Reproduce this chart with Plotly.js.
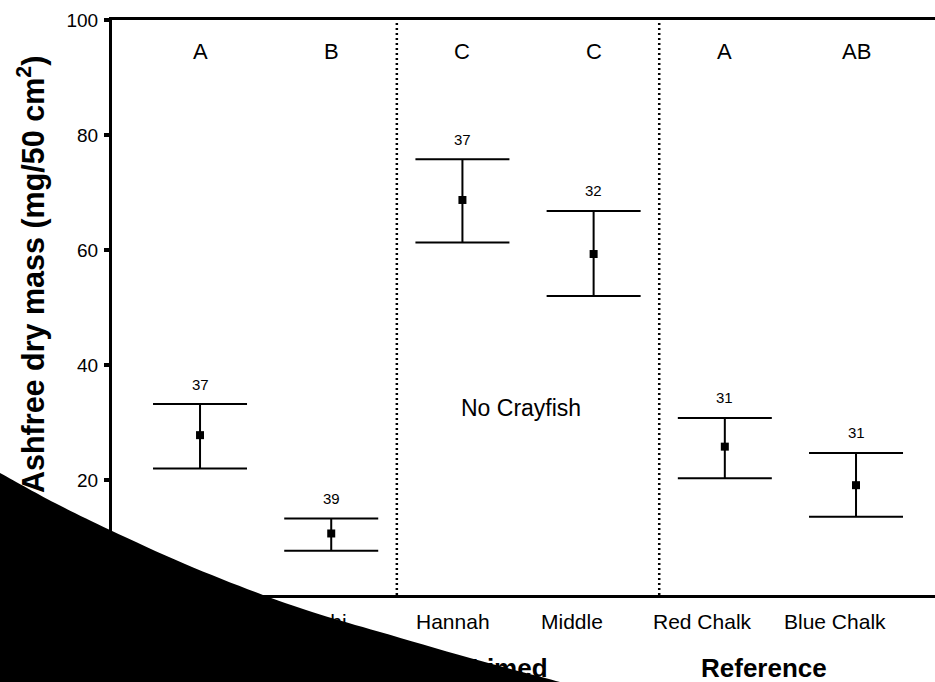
<!DOCTYPE html>
<html>
<head>
<meta charset="utf-8">
<script src="https://cdn.plot.ly/plotly-3.0.1.min.js"></script>
<style>html,body{margin:0;padding:0;background:#fff;}</style>
</head>
<body>
<div id="chart" style="width:935px;height:682px;"></div>
<script>
// ---- data ----
const categories = ["Clearwater", "Lohi", "Hannah", "Middle", "Red Chalk", "Blue Chalk"];
const means      = [27.8, 10.7, 68.7, 59.3, 25.8, 19.1];
const upperCI    = [33.2, 13.3, 75.8, 66.8, 30.8, 24.7];
const lowerCI    = [22.0, 7.7, 61.3, 52.0, 20.3, 13.6];
const nLabels    = ["37", "39", "37", "32", "31", "31"];
const letters    = ["A", "B", "C", "C", "A", "AB"];
const groups     = ["Acidified", "Limed", "Reference"];
const groupMembers = [[0, 1], [2, 3], [4, 5]];
const yTicks     = [0, 20, 40, 60, 80, 100];
const noteText   = "No Crayfish";

// ---- styling ----
const FONT = "Liberation Sans, Arial, Helvetica, sans-serif";
const tickLabelShift = [-4, -4, -9, -22, -22, -21];
const groupLabelShift = [-20, -19, -26];

const xIdx = categories.map((_, i) => i);

const trace = {
  type: "scatter",
  mode: "markers",
  x: xIdx,
  y: means,
  marker: { symbol: "square", size: 8, color: "#000" },
  error_y: {
    type: "data",
    symmetric: false,
    array: upperCI.map((u, i) => u - means[i]),
    arrayminus: lowerCI.map((l, i) => means[i] - l),
    color: "#000",
    thickness: 2,
    width: 47
  },
  hoverinfo: "skip",
  showlegend: false
};

const annotations = [];
// significance letters
letters.forEach((t, i) => annotations.push({
  x: i, xref: "x", y: 1, yref: "paper", yshift: -31, yanchor: "middle",
  text: t, showarrow: false, font: { family: FONT, size: 22, color: "#000" }
}));
// n labels above upper bars
nLabels.forEach((t, i) => annotations.push({
  x: i, xref: "x", y: upperCI[i], yref: "y", yshift: 20, yanchor: "middle",
  text: t, showarrow: false, font: { family: FONT, size: 15, color: "#000" }
}));
// category labels
categories.forEach((t, i) => annotations.push({
  x: i, xref: "x", y: 0, yref: "paper", yshift: -26, xshift: tickLabelShift[i], yanchor: "middle",
  text: t, showarrow: false, font: { family: FONT, size: 21, color: "#000" }
}));
// group labels
groups.forEach((t, g) => {
  const m = groupMembers[g];
  annotations.push({
    x: (m[0] + m[m.length - 1]) / 2, xref: "x", y: 0, yref: "paper", yshift: -73, xshift: groupLabelShift[g],
    yanchor: "middle", text: "<b>" + t + "</b>", showarrow: false,
    font: { family: FONT, size: 26, color: "#000" }
  });
});
// note
annotations.push({
  x: 2.5, xref: "x", y: 32.5, yref: "y", xshift: -7, yanchor: "middle",
  text: noteText, showarrow: false, font: { family: FONT, size: 23, color: "#000" }
});
// y title
annotations.push({
  x: 0, xref: "paper", xshift: -81, y: 0.5565, yref: "paper", textangle: -90,
  xanchor: "center", yanchor: "middle",
  text: "<b>Ashfree dry mass (mg/50 cm<sup>2</sup>)</b>", showarrow: false,
  font: { family: FONT, size: 30.5, color: "#000" }
});

const shapes = [];
// dotted group separators
for (let g = 0; g < groupMembers.length - 1; g++) {
  const xs = (groupMembers[g][groupMembers[g].length - 1] + groupMembers[g + 1][0]) / 2;
  shapes.push({
    type: "line", xref: "x", yref: "paper", x0: xs, x1: xs, y0: 0, y1: 1,
    line: { color: "#000", width: 2.5, dash: "2px,3px" }
  });
}

// black occluding wedge in lower-left corner (image artifact), pixel outline -> paper
const M = { l: 112, r: 0, t: 20, b: 87 };
const W = 935, H = 682;
const pw = W - M.l - M.r, ph = H - M.t - M.b;
const toPaper = p => [(p[0] - M.l) / pw, (H - M.b - p[1]) / ph];
const edge = [[0, 473], [55, 503], [110, 530], [185, 564], [263, 595], [320, 614.5], [380, 632], [470, 658], [560, 682]];
const pts = edge.map(toPaper);
let d = "M " + toPaper([-20, 462]).join(",") + " L " + pts[0].join(",");
for (let i = 0; i < pts.length - 1; i++) {
  const p0 = pts[Math.max(i - 1, 0)], p1 = pts[i], p2 = pts[i + 1], p3 = pts[Math.min(i + 2, pts.length - 1)];
  const c1 = [p1[0] + (p2[0] - p0[0]) / 6, p1[1] + (p2[1] - p0[1]) / 6];
  const c2 = [p2[0] - (p3[0] - p1[0]) / 6, p2[1] - (p3[1] - p1[1]) / 6];
  d += " C " + c1.join(",") + " " + c2.join(",") + " " + p2.join(",");
}
d += " L " + toPaper([600, 693]).join(",") + " L " + toPaper([-20, 693]).join(",") + " Z";
shapes.push({
  type: "path", xref: "paper", yref: "paper", path: d,
  fillcolor: "#000", line: { width: 0 }, layer: "above"
});

const layout = {
  width: W, height: H,
  margin: M,
  paper_bgcolor: "#fff", plot_bgcolor: "#fff",
  showlegend: false,
  font: { family: FONT, color: "#000" },
  xaxis: {
    range: [-0.671, 5.602], showgrid: false, zeroline: false, showticklabels: false,
    ticks: "", showline: true, linecolor: "#000", linewidth: 3, mirror: true, fixedrange: true
  },
  yaxis: {
    range: [0, 100], tickvals: yTicks, ticktext: yTicks.map(String),
    showgrid: false, zeroline: false, showline: true, linecolor: "#000", linewidth: 3,
    ticks: "outside", ticklen: 5, tickwidth: 4, tickcolor: "#000",
    tickfont: { family: FONT, size: 19, color: "#000" }, ticklabelstandoff: 2, fixedrange: true
  },
  annotations: annotations,
  shapes: shapes
};

Plotly.newPlot("chart", [trace], layout, { displayModeBar: false, staticPlot: true });
</script>
</body>
</html>
